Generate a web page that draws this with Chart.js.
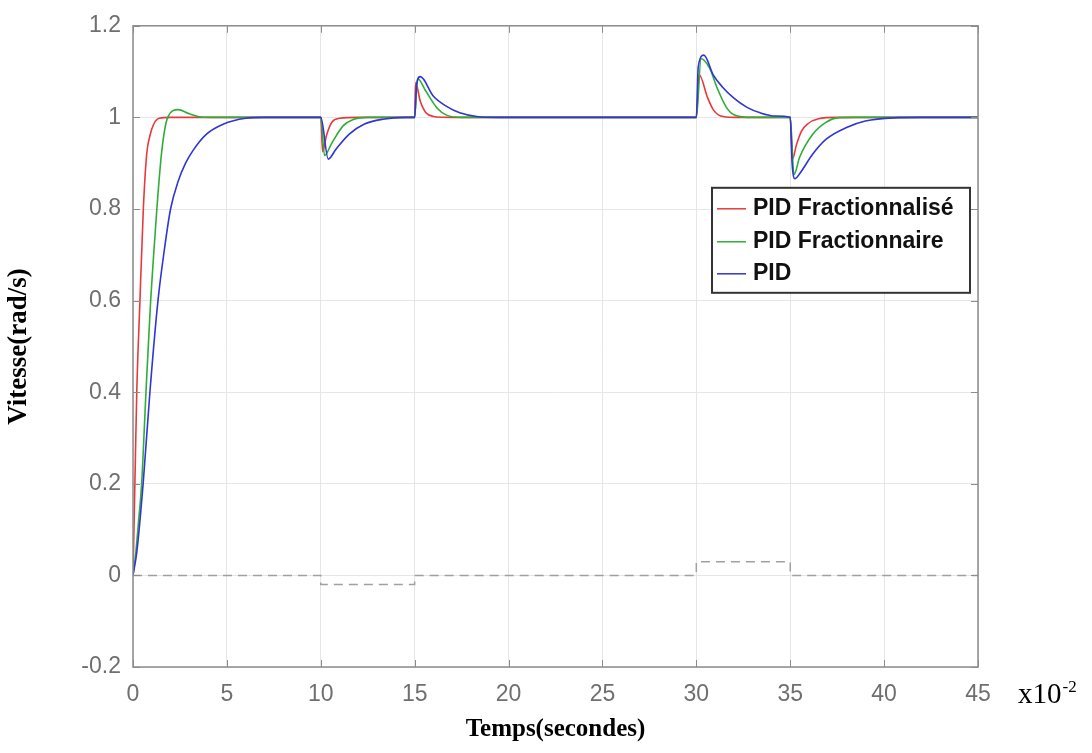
<!DOCTYPE html>
<html>
<head>
<meta charset="utf-8">
<script src="https://cdn.jsdelivr.net/npm/chart.js@4.4.1/dist/chart.umd.min.js"></script>
<style>
  html, body { margin: 0; padding: 0; background: #fff; }
  #wrap { width: 1092px; height: 753px; }
</style>
</head>
<body>
<div id="wrap"><canvas id="speedChart" width="1092" height="753"></canvas></div>
<script>
// axis ticks
const xTicks = [0, 5, 10, 15, 20, 25, 30, 35, 40, 45];
const yTicks = [-0.2, 0, 0.2, 0.4, 0.6, 0.8, 1, 1.2];
const yTickLabels = ['-0.2', '0', '0.2', '0.4', '0.6', '0.8', '1', '1.2'];

const seriesNames = ['PID Fractionnalisé', 'PID Fractionnaire', 'PID'];

// PID Fractionnalisé (red)
const tRed = [0, 0.05, 0.1, 0.2, 0.37, 0.55, 0.73, 0.9, 1.1, 1.4, 2, 10, 10.1, 10.3, 10.6, 11, 12,
  15, 15.05, 15.3, 15.6, 16, 17, 30, 30.15, 30.6, 30.9, 31.3, 32, 35, 35.12, 35.33, 35.6, 35.9, 36.5, 37.5, 45];
const vRed = [0, 0.1, 0.2, 0.4, 0.6, 0.8, 0.92, 0.96, 0.985, 0.998, 1, 1, 0.925, 0.96, 0.99, 0.998, 1,
  1, 1.076, 1.035, 1.01, 1.002, 1, 1, 1.093, 1.043, 1.017, 1.003, 1, 1, 0.909, 0.94, 0.97, 0.985, 0.997, 1, 1];

// PID Fractionnaire (green)
const tGreen = [0, 0.15, 0.3, 0.46, 0.69, 0.94, 1.1, 1.27, 1.53, 1.85, 2.4, 3, 3.6, 4.5, 10, 10.2, 10.6, 11.2, 11.7, 12.5,
  15, 15.15, 15.6, 16.2, 16.7, 17.5, 30, 30.25, 30.7, 31.1, 31.6, 32, 33, 35, 35.2, 35.5, 36.2, 36.9, 37.5, 38.5, 45];
const vGreen = [0, 0.05, 0.12, 0.2, 0.4, 0.6, 0.7, 0.8, 0.926, 1, 1.017, 1.008, 1.001, 1, 1, 0.917, 0.945, 0.982, 0.995, 1,
  1, 1.085, 1.057, 1.02, 1.005, 1, 1, 1.128, 1.108, 1.065, 1.022, 1.006, 1, 1, 0.875, 0.913, 0.963, 0.989, 0.999, 1, 1];

// PID (blue)
const tBlue = [0, 0.2, 0.54, 0.9, 1.33, 1.7, 2, 2.4, 2.8, 3.2, 3.9, 4.8, 6, 7, 10, 10.4, 10.8, 11.5, 12.3, 13.3, 14.5,
  15, 15.1, 15.3, 16, 16.7, 17.4, 18.3, 19.5, 30, 30.1, 30.4, 30.9, 31.4, 32, 32.7, 33.4, 34.2,
  35, 35.1, 35.25, 35.5, 36.2, 36.9, 38, 39, 40.5, 42, 45];
const vBlue = [0, 0.05, 0.2, 0.4, 0.6, 0.72, 0.8, 0.86, 0.9, 0.928, 0.963, 0.985, 0.998, 1, 1, 0.909, 0.93, 0.963, 0.985, 0.996, 1,
  1, 1.07, 1.089, 1.046, 1.024, 1.01, 1.002, 1, 1, 1.11, 1.136, 1.093, 1.066, 1.042, 1.022, 1.01, 1.003,
  1, 0.9, 0.866, 0.877, 0.92, 0.952, 0.978, 0.992, 0.999, 1, 1];

// load disturbance (dashed)
const tLoad = [0, 10, 10, 15, 15, 30, 30, 35, 35, 45];
const vLoad = [0, 0, -0.02, -0.02, 0, 0, 0.03, 0.03, 0, 0];

const colors = ['#e8383c', '#2fae37', '#2f35d6'];

function pts(t, v) {
    return t.map((x, i) => ({ x: x, y: v[i] }));
}

const sansFont = "'Liberation Sans', Arial, sans-serif";
const serifFont = "'Liberation Serif', 'Times New Roman', serif";

// box, inner ticks, legend and exponent label
const framePlugin = {
    id: 'frame',
    afterDraw(chart) {
        const ctx = chart.ctx;
        const a = chart.chartArea;
        const xs = chart.scales.x, ys = chart.scales.y;
        ctx.save();
        ctx.strokeStyle = '#8c8c8c';
        ctx.lineWidth = 1.5;
        ctx.strokeRect(a.left, a.top, a.right - a.left, a.bottom - a.top);

        ctx.lineWidth = 1;
        ctx.beginPath();
        xTicks.forEach(v => {
            const px = Math.round(xs.getPixelForValue(v)) + 0.5;
            ctx.moveTo(px, a.bottom); ctx.lineTo(px, a.bottom - 7);
            ctx.moveTo(px, a.top); ctx.lineTo(px, a.top + 7);
        });
        yTicks.forEach(v => {
            const py = Math.round(ys.getPixelForValue(v)) + 0.5;
            ctx.moveTo(a.left, py); ctx.lineTo(a.left + 7, py);
            ctx.moveTo(a.right, py); ctx.lineTo(a.right - 7, py);
        });
        ctx.stroke();

        // legend
        const bx = a.right - 266, by = a.top + 162, bw = 258, bh = 105;
        ctx.fillStyle = '#fff';
        ctx.fillRect(bx, by, bw, bh);
        ctx.strokeStyle = '#333';
        ctx.lineWidth = 2;
        ctx.strokeRect(bx, by, bw, bh);
        ctx.font = 'bold 23px ' + sansFont;
        ctx.textBaseline = 'middle';
        const rows = [21, 54, 86];
        seriesNames.forEach((name, i) => {
            const y = by + rows[i];
            ctx.strokeStyle = colors[i];
            ctx.lineWidth = 1.5;
            ctx.beginPath();
            ctx.moveTo(bx + 5, y); ctx.lineTo(bx + 34, y);
            ctx.stroke();
            ctx.fillStyle = '#111';
            ctx.fillText(name, bx + 41, y);
        });

        // x10^-2
        ctx.fillStyle = '#000';
        ctx.textBaseline = 'alphabetic';
        ctx.font = '29px ' + serifFont;
        const ex = a.right + 40, ey = a.bottom + 36;
        ctx.fillText('x10', ex, ey);
        const w = ctx.measureText('x10').width;
        ctx.font = '17px ' + serifFont;
        ctx.fillText('-2', ex + w + 1, ey - 11);
        ctx.restore();
    }
};

const ctx = document.getElementById('speedChart').getContext('2d');
new Chart(ctx, {
    type: 'line',
    data: {
        datasets: [{
            label: seriesNames[2],
            data: pts(tBlue, vBlue),
            borderColor: colors[2],
            borderWidth: 1.6,
            pointRadius: 0,
            cubicInterpolationMode: 'monotone'
        }, {
            label: seriesNames[1],
            data: pts(tGreen, vGreen),
            borderColor: colors[1],
            borderWidth: 1.6,
            pointRadius: 0,
            cubicInterpolationMode: 'monotone'
        }, {
            label: seriesNames[0],
            data: pts(tRed, vRed),
            borderColor: colors[0],
            borderWidth: 1.6,
            pointRadius: 0,
            cubicInterpolationMode: 'monotone'
        }, {
            label: 'Couple de charge',
            data: pts(tLoad, vLoad),
            borderColor: '#a0a0a0',
            borderWidth: 1.5,
            borderDash: [9, 6],
            pointRadius: 0,
            tension: 0
        }]
    },
    options: {
        responsive: false,
        animation: false,
        layout: { padding: { top: 20, right: 114, left: 0, bottom: 0 } },
        plugins: {
            legend: { display: false },
            tooltip: { enabled: false }
        },
        scales: {
            x: {
                type: 'linear',
                min: 0,
                max: 45,
                afterBuildTicks: s => { s.ticks = xTicks.map(v => ({ value: v })); },
                afterFit: s => { s.height = 86; },
                grid: { color: '#e6e6e6', drawTicks: false },
                border: { display: false },
                ticks: {
                    padding: 14,
                    color: '#6f6f6f',
                    font: { family: sansFont, size: 23 },
                    maxRotation: 0
                },
                title: {
                    display: true,
                    text: 'Temps(secondes)',
                    color: '#000',
                    font: { family: serifFont, size: 25, weight: 'bold' },
                    padding: { top: 0, bottom: 8 }
                }
            },
            y: {
                min: -0.2,
                max: 1.2,
                afterBuildTicks: s => { s.ticks = yTicks.map(v => ({ value: v })); },
                afterFit: s => { s.width = 133; },
                grid: { color: '#e6e6e6', drawTicks: false },
                border: { display: false },
                ticks: {
                    padding: 12,
                    color: '#6f6f6f',
                    font: { family: sansFont, size: 23 },
                    callback: (v, i) => yTickLabels[i]
                },
                title: {
                    display: true,
                    text: 'Vitesse(rad/s)',
                    color: '#000',
                    font: { family: serifFont, size: 27, weight: 'bold' },
                    padding: { top: 3, bottom: 0 }
                }
            }
        }
    },
    plugins: [framePlugin]
});
</script>
</body>
</html>
